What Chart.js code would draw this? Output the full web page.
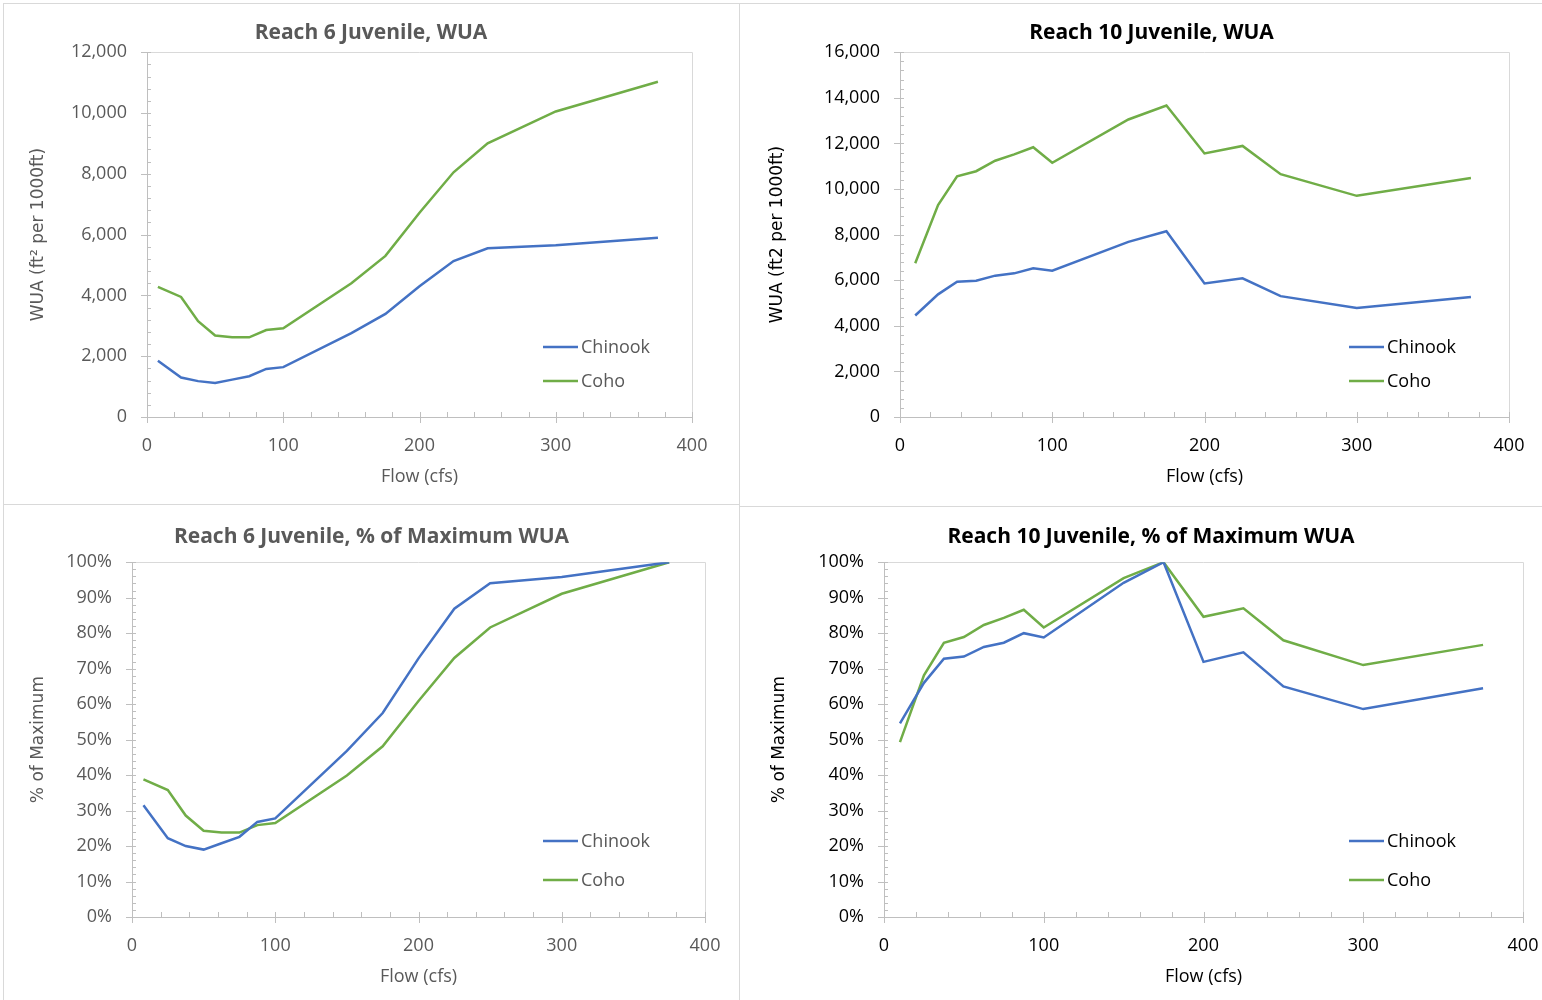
<!DOCTYPE html>
<html>
<head>
<meta charset="utf-8">
<script src="https://cdn.jsdelivr.net/npm/chart.js@4.4.0/dist/chart.umd.min.js"></script>
<style>
  html, body { margin: 0; padding: 0; background: #fff; overflow: hidden; width: 1542px; height: 1000px; }
  .panel { position: absolute; border: 1px solid #d9d9d9; box-sizing: border-box; }
  canvas { position: absolute; }
</style>
</head>
<body>
<div class="panel" style="left:3px;top:3px;width:737px;height:502px"></div>
<div class="panel" style="left:739px;top:3px;width:820px;height:504px"></div>
<div class="panel" style="left:3px;top:504px;width:737px;height:510px"></div>
<div class="panel" style="left:739px;top:506px;width:820px;height:510px"></div>

<canvas id="r6wua" width="740" height="505" style="left:0;top:0"></canvas>
<canvas id="r10wua" width="802" height="505" style="left:740px;top:0"></canvas>
<canvas id="r6pct" width="740" height="495" style="left:0;top:505px"></canvas>
<canvas id="r10pct" width="802" height="495" style="left:740px;top:505px"></canvas>

<script>
// flows (cfs)
const flowR6  = [8, 25, 37.5, 50, 62.5, 75, 87.5, 100, 150, 175, 200, 225, 250, 300, 375];
const flowR10 = [10, 25, 37.5, 50, 62.5, 75, 87.5, 100, 150, 175, 200, 225, 250, 300, 375];

// WUA (ft2 per 1000 ft)
const r6ChinookWUA  = [1850, 1300, 1180, 1120, 1230, 1340, 1580, 1640, 2760, 3390, 4300, 5130, 5550, 5650, 5900];
const r6CohoWUA     = [4280, 3950, 3150, 2680, 2620, 2620, 2860, 2920, 4400, 5300, 6720, 8050, 9000, 10050, 11030];
const r10ChinookWUA = [4450, 5380, 5930, 5980, 6200, 6300, 6520, 6420, 7680, 8150, 5860, 6080, 5300, 4780, 5260];
const r10CohoWUA    = [6740, 9300, 10560, 10780, 11240, 11520, 11830, 11150, 13050, 13660, 11560, 11890, 10650, 9700, 10480];

// % of maximum
const r6ChinookPct  = [31.5, 22.2, 20.0, 19.0, 20.8, 22.6, 26.8, 27.8, 46.8, 57.5, 72.9, 86.9, 94.1, 95.8, 100];
const r6CohoPct     = [38.8, 35.8, 28.6, 24.3, 23.8, 23.8, 25.9, 26.5, 39.9, 48.1, 60.9, 73.0, 81.6, 91.1, 100];
const r10ChinookPct = [54.6, 66.0, 72.8, 73.4, 76.1, 77.3, 80.0, 78.8, 94.2, 100, 71.9, 74.6, 65.0, 58.6, 64.5];
const r10CohoPct    = [49.3, 68.1, 77.3, 78.9, 82.3, 84.3, 86.6, 81.6, 95.5, 100, 84.6, 87.0, 78.0, 71.0, 76.7];

const seriesNames = ['Chinook', 'Coho'];
const seriesColors = ['#4472C4', '#70AD47'];

const FONT = '"Open Sans", "Noto Sans", sans-serif';

// excel style frame: light box, major ticks crossing, minor ticks inside
const excelAxes = {
  id: 'excelAxes',
  beforeDatasetsDraw(chart, args, o) {
    const { ctx, chartArea: a, scales: { x, y } } = chart;
    ctx.save();
    ctx.lineWidth = 1;
    ctx.strokeStyle = '#d9d9d9';
    ctx.beginPath();
    ctx.moveTo(a.left, Math.round(a.top) + 0.5);
    ctx.lineTo(Math.round(a.right) + 0.5, Math.round(a.top) + 0.5);
    ctx.lineTo(Math.round(a.right) + 0.5, a.bottom);
    ctx.stroke();

    ctx.strokeStyle = '#bfbfbf';
    ctx.beginPath();
    const nx = Math.round((x.max - x.min) / o.minorX);
    for (let i = 0; i <= nx; i++) {
      const v = x.min + i * o.minorX;
      const px = Math.round(x.getPixelForValue(v)) + 0.5;
      const major = i % o.perMajorX === 0;
      ctx.moveTo(px, a.bottom - 5);
      ctx.lineTo(px, a.bottom + (major ? 6 : 0));
    }
    const ny = Math.round((y.max - y.min) / o.minorY);
    for (let i = 0; i <= ny; i++) {
      const v = y.min + i * o.minorY;
      const py = Math.round(y.getPixelForValue(v)) + 0.5;
      const major = i % o.perMajorY === 0;
      ctx.moveTo(a.left - (major ? 6 : 0), py);
      ctx.lineTo(a.left + 4, py);
    }
    ctx.stroke();
    ctx.restore();
  }
};

const insideLegend = {
  id: 'insideLegend',
  afterDraw(chart, args, o) {
    const { ctx } = chart;
    ctx.save();
    ctx.font = '18px ' + FONT;
    ctx.fillStyle = o.color;
    ctx.textBaseline = 'middle';
    chart.data.datasets.forEach((ds, i) => {
      const yy = o.y + i * o.gap;
      ctx.strokeStyle = ds.borderColor;
      ctx.lineWidth = 2.5;
      ctx.beginPath();
      ctx.moveTo(o.x, yy);
      ctx.lineTo(o.x + 35, yy);
      ctx.stroke();
      ctx.fillText(ds.label, o.x + 38, yy + 1);
    });
    ctx.restore();
  }
};

function pts(xs, ys) {
  return xs.map((v, i) => ({ x: v, y: ys[i] }));
}

function makeChart(id, c) {
  new Chart(document.getElementById(id), {
    type: 'line',
    data: {
      datasets: c.series.map((s, i) => ({
        label: seriesNames[i],
        data: pts(c.flow, s),
        borderColor: seriesColors[i],
        backgroundColor: seriesColors[i],
        borderWidth: 2.5,
        pointRadius: 0,
        tension: 0
      }))
    },
    options: {
      responsive: false,
      animation: false,
      layout: { padding: { left: c.padL, right: c.padR, top: 0, bottom: 0 } },
      plugins: {
        legend: { display: false },
        tooltip: { enabled: false },
        title: {
          display: true,
          text: c.title,
          color: c.color,
          font: { family: FONT, size: 21, weight: 'bold', lineHeight: 1.2 },
          padding: { top: c.titleTop, bottom: c.titleBottom }
        },
        excelAxes: { minorX: 20, perMajorX: 5, minorY: c.minorY, perMajorY: 5 },
        insideLegend: { x: c.legX, y: c.legY, gap: c.legGap, color: c.color }
      },
      scales: {
        x: {
          type: 'linear',
          min: 0, max: 400,
          afterFit: s => { s.height = c.xHeight; s.paddingLeft = 0; s.paddingRight = 0; },
          grid: { display: false },
          border: { color: '#bfbfbf' },
          ticks: { stepSize: 100, padding: 10, color: c.color, font: { family: FONT, size: 18 } },
          title: {
            display: true, text: 'Flow (cfs)', color: c.color,
            font: { family: FONT, size: 18 }, padding: { top: 0, bottom: c.xTitlePad }
          }
        },
        y: {
          min: 0, max: c.yMax,
          afterFit: s => { s.width = c.yWidth; },
          grid: { display: false },
          border: { color: '#bfbfbf' },
          ticks: {
            stepSize: c.yStep, padding: 12, color: c.color,
            font: { family: FONT, size: 18 },
            callback: c.yFmt
          },
          title: {
            display: true, text: c.yTitle, color: c.color,
            font: { family: '"DejaVu Sans", sans-serif', size: 17 },
            padding: { top: c.yTitlePad, bottom: 0 }
          }
        }
      }
    },
    plugins: [excelAxes, insideLegend]
  });
}

const numFmt = v => v.toLocaleString('en-US');
const pctFmt = v => v + '%';

makeChart('r6wua', {
  title: 'Reach 6 Juvenile, WUA', color: '#595959',
  flow: flowR6, series: [r6ChinookWUA, r6CohoWUA],
  yMax: 12000, yStep: 2000, minorY: 400, yFmt: numFmt,
  yTitle: 'WUA (ft² per 1000ft)',
  padL: 50, padR: 48, yWidth: 97, yTitlePad: -22,
  titleTop: 20, titleBottom: 7, xHeight: 88, xTitlePad: 17,
  legX: 543, legY: 347, legGap: 34
});

makeChart('r10wua', {
  title: 'Reach 10 Juvenile, WUA', color: '#000000',
  flow: flowR10, series: [r10ChinookWUA, r10CohoWUA],
  yMax: 16000, yStep: 2000, minorY: 400, yFmt: numFmt,
  yTitle: 'WUA (ft2 per 1000ft)',
  padL: 54, padR: 33, yWidth: 106, yTitlePad: -27,
  titleTop: 20, titleBottom: 7, xHeight: 88, xTitlePad: 17,
  legX: 609, legY: 347, legGap: 34
});

makeChart('r6pct', {
  title: 'Reach 6 Juvenile, % of Maximum WUA', color: '#595959',
  flow: flowR6, series: [r6ChinookPct, r6CohoPct],
  yMax: 100, yStep: 10, minorY: 2, yFmt: pctFmt,
  yTitle: '% of Maximum',
  padL: 38, padR: 35, yWidth: 94, yTitlePad: -10,
  titleTop: 19, titleBottom: 13, xHeight: 83, xTitlePad: 12,
  legX: 543, legY: 336, legGap: 39
});

makeChart('r10pct', {
  title: 'Reach 10 Juvenile, % of Maximum WUA', color: '#000000',
  flow: flowR10, series: [r10ChinookPct, r10CohoPct],
  yMax: 100, yStep: 10, minorY: 2, yFmt: pctFmt,
  yTitle: '% of Maximum',
  padL: 39, padR: 19, yWidth: 105, yTitlePad: -10,
  titleTop: 19, titleBottom: 13, xHeight: 83, xTitlePad: 12,
  legX: 609, legY: 336, legGap: 39
});
</script>
</body>
</html>
